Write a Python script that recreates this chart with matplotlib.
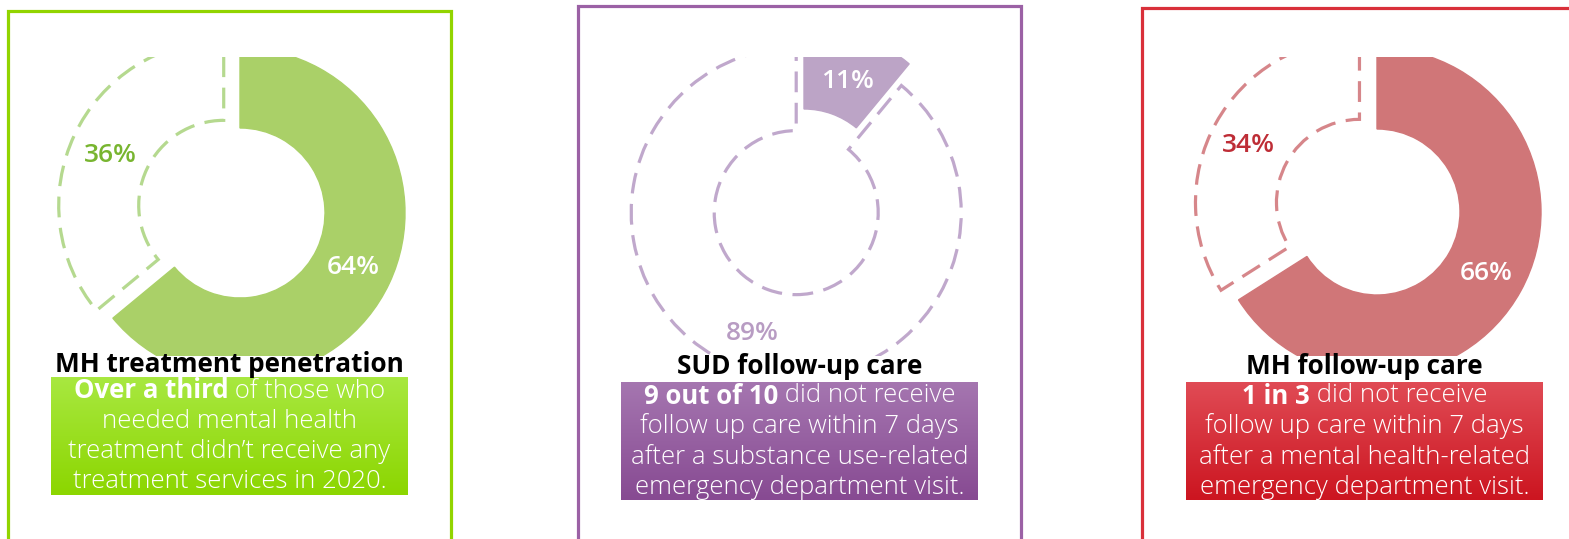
import numpy as np
import matplotlib.pyplot as plt
from matplotlib.patches import Rectangle
from matplotlib.colors import LinearSegmentedColormap

# data
titles = ['MH treatment penetration', 'SUD follow-up care', 'MH follow-up care']
received = [64, 11, 66]
not_received = [36, 89, 34]
lead_bold = ['Over a third', '9 out of 10', '1 in 3']
lead_rest = [' of those who', ' did not receive', ' did not receive']
body_lines = [
    ['needed mental health', 'treatment didn\u2019t receive any', 'treatment services in 2020.'],
    ['follow up care within 7 days', 'after a substance use-related', 'emergency department visit.'],
    ['follow up care within 7 days', 'after a mental health-related', 'emergency department visit.'],
]

plt.rcParams['font.family'] = ['Open Sans', 'DejaVu Sans']

W, H = 1569, 539
def Y(y):
    return H - y

BODY_FS = 18.5

# layout per panel (image pixel coords)
panels = [
    dict(border=(8, 11, 451), fill='#aad068', dash='#b5d98f', lab_dash='#78b530',
         border_col='#92d400', grad=('#a8e840', '#8cd600'),
         center=(240, 213), r=165, w=80, expl=18,
         lab_in=(353, 268), lab_out=(110, 156), title_y=364,
         box=(51, 377, 408, 495), lines_y=[391, 421, 452, 482]),
    dict(border=(578, 6, 1021), fill='#bca4c6', dash='#c0a8cc', lab_dash='#b89cc3',
         border_col='#9b61a5', grad=('#a576b0', '#874a92'),
         center=(804, 191), r=165, w=83, expl=23,
         lab_in=(847, 81), lab_out=(752, 334), title_y=367,
         box=(621, 382, 978, 500), lines_y=[396, 426, 457, 487]),
    dict(border=(1142, 8, 1575), fill='#d07678', dash='#d6868a', lab_dash='#be2d36',
         border_col='#d9303a', grad=('#e04b55', '#cc1520'),
         center=(1377, 212), r=164, w=81, expl=20,
         lab_in=(1486, 274), lab_out=(1248, 146), title_y=367,
         box=(1186, 382, 1543, 500), lines_y=[396, 426, 457, 487]),
]

fig = plt.figure(figsize=(W / 100, H / 100), dpi=100)
ax = fig.add_axes([0, 0, 1, 1])
ax.set_xlim(0, W)
ax.set_ylim(0, H)
ax.set_aspect('equal')
ax.axis('off')

for i, p in enumerate(panels):
    bx0, by0, bx1 = p['border']
    ax.add_patch(Rectangle((bx0, -20), bx1 - bx0, Y(by0) + 20, fill=False,
                           edgecolor=p['border_col'], linewidth=2.3, zorder=1))

    cx, cy = p['center']
    wedges, _ = ax.pie([received[i], not_received[i]], startangle=90, counterclock=False,
                       center=(cx, Y(cy)), radius=p['r'], explode=[0, p['expl']],
                       wedgeprops=dict(width=p['w']), frame=True)
    clip = Rectangle((bx0, Y(356)), bx1 - bx0, 356 - 57, transform=ax.transData,
                     visible=False)
    ax.add_patch(clip)
    wedges[0].set_facecolor(p['fill'])
    wedges[0].set_edgecolor(p['fill'])
    wedges[1].set_facecolor('none')
    wedges[1].set_edgecolor(p['dash'])
    wedges[1].set_linewidth(2.3)
    wedges[1].set_linestyle((0, (6.5, 3.3)))
    for wd in wedges:
        wd.set_clip_on(True)
        wd.set_clip_path(clip)

    ax.text(p['lab_in'][0], Y(p['lab_in'][1]), f'{received[i]}%', color='white',
            fontsize=19, fontweight='semibold', ha='center', va='center')
    ax.text(p['lab_out'][0], Y(p['lab_out'][1]), f'{not_received[i]}%', color=p['lab_dash'],
            fontsize=19, fontweight='semibold', ha='center', va='center')

    # title
    x0, y0, x1, y1 = p['box']
    xc = (x0 + x1) / 2
    ax.text(xc, Y(p['title_y']), titles[i], color='black', fontsize=18.8,
            fontweight='bold', ha='center', va='center', zorder=5)

    # gradient box
    cmap = LinearSegmentedColormap.from_list('g', [p['grad'][1], p['grad'][0]])
    ax.imshow(np.linspace(0, 1, 100).reshape(-1, 1), cmap=cmap, aspect='auto',
              extent=(x0, x1, Y(y1), Y(y0)), origin='lower', zorder=3)

    # first line: bold lead + regular rest, centred together
    ly = Y(p['lines_y'][0])
    t1 = ax.text(0, ly, lead_bold[i], color='white', fontsize=BODY_FS, fontweight='bold',
                 ha='left', va='center', zorder=6)
    t2 = ax.text(0, ly, lead_rest[i], color='white', fontsize=BODY_FS, fontweight='light',
                 ha='left', va='center', zorder=6)
    fig.canvas.draw()
    r = fig.canvas.get_renderer()
    inv = ax.transData.inverted()
    e1 = t1.get_window_extent(r)
    e2 = t2.get_window_extent(r)
    w1 = inv.transform((e1.x1, 0))[0] - inv.transform((e1.x0, 0))[0]
    w2 = inv.transform((e2.x1, 0))[0] - inv.transform((e2.x0, 0))[0]
    start = xc - (w1 + w2) / 2
    t1.set_x(start)
    t2.set_x(start + w1)

    for line, yy in zip(body_lines[i], p['lines_y'][1:]):
        ax.text(xc, Y(yy), line, color='white', fontsize=BODY_FS, fontweight='light',
                ha='center', va='center', zorder=6)

ax.set_xlim(0, W)
ax.set_ylim(0, H)
ax.axis('off')
fig.savefig('out.png', dpi=100)
